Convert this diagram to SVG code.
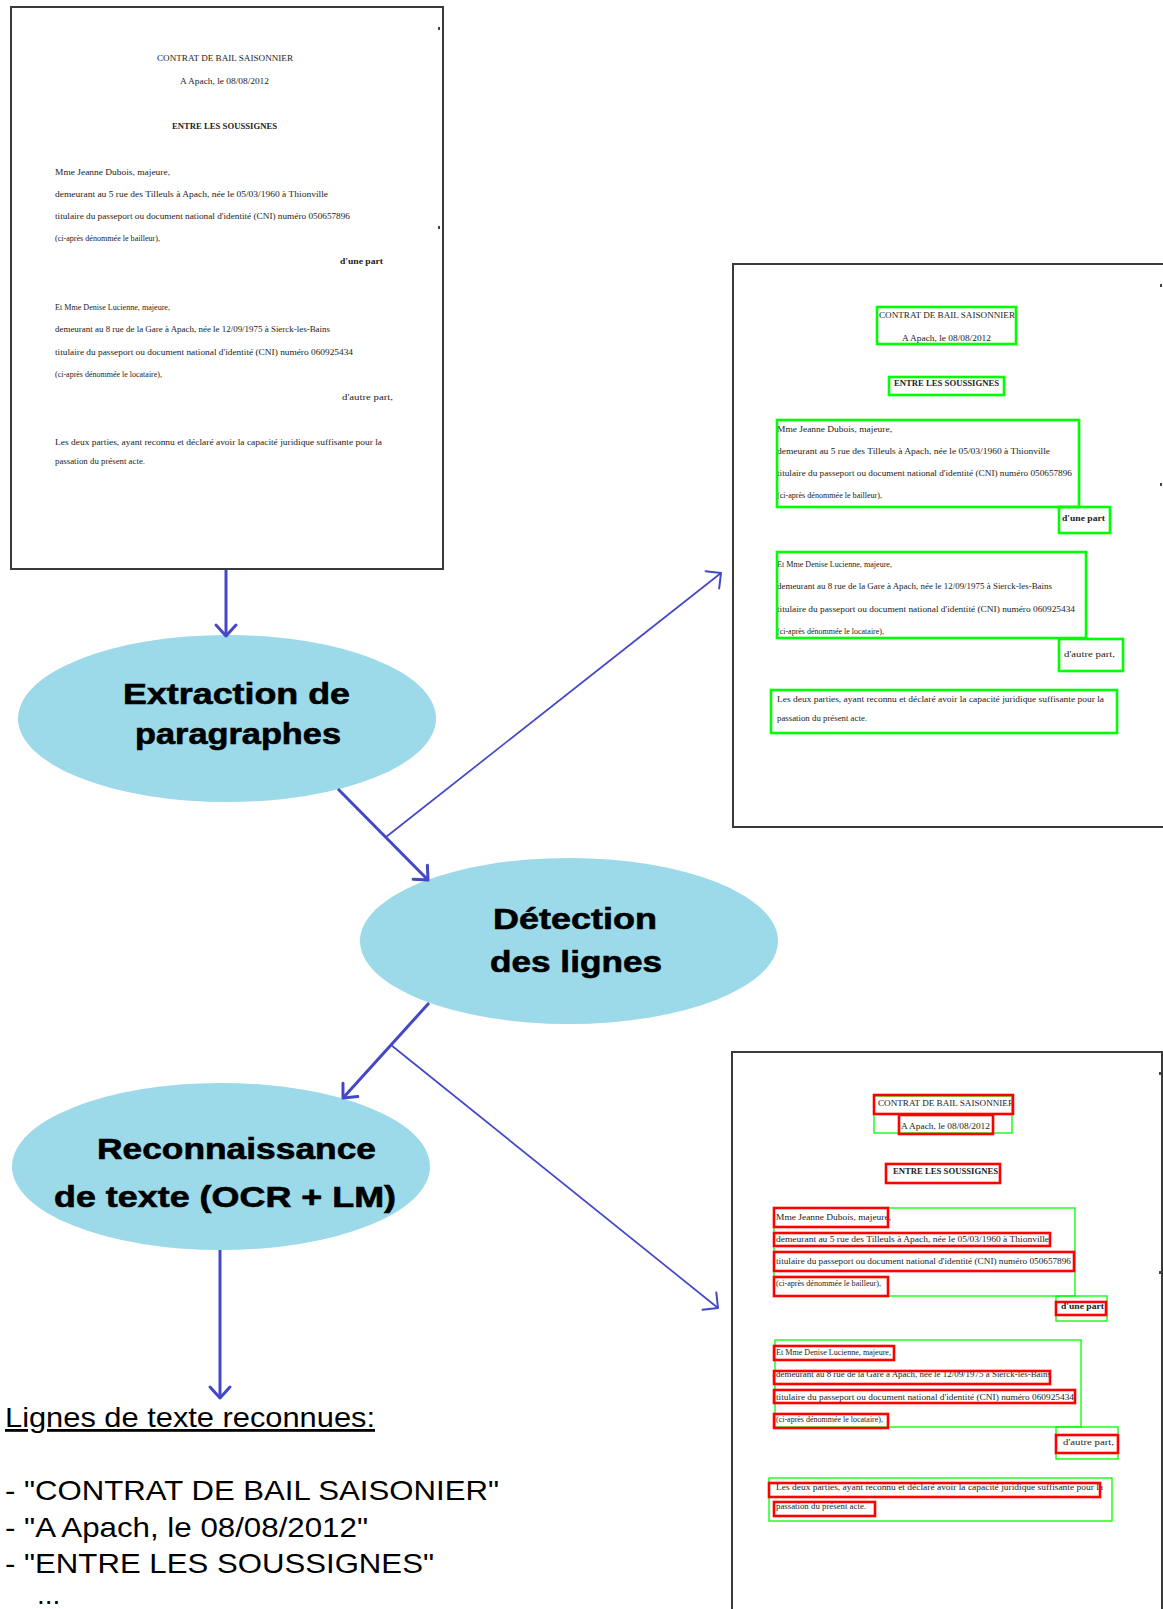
<svg xmlns="http://www.w3.org/2000/svg" xmlns:xlink="http://www.w3.org/1999/xlink" width="1163" height="1609" viewBox="0 0 1163 1609">
<style>
.page{fill:#fff;stroke:#3a3a3a;stroke-width:2}
.dt{font-family:"Liberation Serif","Times New Roman",serif;font-size:7.5px;fill:#222}
.db{font-weight:bold}
.g{fill:none;stroke:#00ff00;stroke-width:2.6}
.gt{fill:none;stroke:#00ff00;stroke-width:1.3}
.r{fill:none;stroke:#ff0000;stroke-width:2.6}
.ell{fill:#9cd9e9}
.lbl{font-family:"Liberation Sans",Arial,sans-serif;font-weight:bold;font-size:29px;fill:#000;stroke:#000;stroke-width:0.6}
.thick{stroke:#4347c8;stroke-width:3;fill:none}
.thin{stroke:#4347c8;stroke-width:1.7;fill:none}
.out{font-family:"Liberation Sans",Arial,sans-serif;font-size:28px;fill:#000}
</style>
<defs>
<marker id="ah" markerUnits="userSpaceOnUse" markerWidth="30" markerHeight="30" viewBox="-15 -15 30 30" refX="0" refY="0" orient="auto">
<path d="M-11,-10 L0,0 L-11,10" fill="none" stroke="#4347c8" stroke-width="3" stroke-linecap="round" stroke-linejoin="round"/>
</marker>
<marker id="aht" markerUnits="userSpaceOnUse" markerWidth="30" markerHeight="30" viewBox="-15 -15 30 30" refX="0" refY="0" orient="auto">
<path d="M-11,-11 L0,0 L-11,11" fill="none" stroke="#4347c8" stroke-width="2" stroke-linecap="round" stroke-linejoin="round"/>
</marker>
<g id="pagetext">
<text class="dt" x="157" y="61" textLength="136" lengthAdjust="spacingAndGlyphs">CONTRAT DE BAIL SAISONNIER</text>
<text class="dt" x="180" y="84" textLength="89" lengthAdjust="spacingAndGlyphs">A Apach, le 08/08/2012</text>
<text class="dt db" x="172" y="129" textLength="105" lengthAdjust="spacingAndGlyphs">ENTRE LES SOUSSIGNES</text>
<text class="dt" x="55" y="175" textLength="115" lengthAdjust="spacingAndGlyphs">Mme Jeanne Dubois, majeure,</text>
<text class="dt" x="55" y="197" textLength="273" lengthAdjust="spacingAndGlyphs">demeurant au 5 rue des Tilleuls à Apach, née le 05/03/1960 à Thionville</text>
<text class="dt" x="55" y="219" textLength="295" lengthAdjust="spacingAndGlyphs">titulaire du passeport ou document national d'identité (CNI) numéro 050657896</text>
<text class="dt" x="55" y="241" textLength="105" lengthAdjust="spacingAndGlyphs">(ci-après dénommée le bailleur),</text>
<text class="dt db" x="340" y="264" textLength="43" lengthAdjust="spacingAndGlyphs">d'une part</text>
<text class="dt" x="55" y="310" textLength="115" lengthAdjust="spacingAndGlyphs">Et Mme Denise Lucienne, majeure,</text>
<text class="dt" x="55" y="332" textLength="275" lengthAdjust="spacingAndGlyphs">demeurant au 8 rue de la Gare à Apach, née le 12/09/1975 à Sierck-les-Bains</text>
<text class="dt" x="55" y="355" textLength="298" lengthAdjust="spacingAndGlyphs">titulaire du passeport ou document national d'identité (CNI) numéro 060925434</text>
<text class="dt" x="55" y="377" textLength="107" lengthAdjust="spacingAndGlyphs">(ci-après dénommée le locataire),</text>
<text class="dt" x="342" y="400" textLength="51" lengthAdjust="spacingAndGlyphs">d'autre part,</text>
<text class="dt" x="55" y="445" textLength="327" lengthAdjust="spacingAndGlyphs">Les deux parties, ayant reconnu et déclaré avoir la capacité juridique suffisante pour la</text>
<text class="dt" x="55" y="464" textLength="90" lengthAdjust="spacingAndGlyphs">passation du présent acte.</text>
<rect x="438" y="27" width="2" height="3" fill="#444"/>
<rect x="438" y="226" width="2" height="3" fill="#444"/>
</g>
</defs>

<g id="doc-original">
<rect class="page" x="11" y="7" width="432" height="562"/>
<use xlink:href="#pagetext"/>
</g>

<g id="doc-paragraphs">
<rect class="page" x="733" y="264" width="440" height="563"/>
<use xlink:href="#pagetext" transform="translate(722,257)"/>
<rect class="g" x="877" y="307" width="139" height="37"/>
<rect class="g" x="889" y="377" width="115" height="18"/>
<rect class="g" x="777" y="420" width="302" height="87"/>
<rect class="g" x="1059" y="507" width="51" height="26"/>
<rect class="g" x="777" y="552" width="309" height="86"/>
<rect class="g" x="1059" y="639" width="64" height="32"/>
<rect class="g" x="771" y="690" width="346" height="43"/>
</g>

<g id="doc-lines">
<rect class="page" x="732" y="1052" width="430" height="600"/>
<use xlink:href="#pagetext" transform="translate(721,1045)"/>
<rect class="gt" x="874" y="1096" width="138" height="37"/>
<rect class="gt" x="774" y="1208" width="301" height="88"/>
<rect class="gt" x="1056" y="1296" width="51" height="25"/>
<rect class="gt" x="775" y="1340" width="306" height="87"/>
<rect class="gt" x="1056" y="1427" width="62" height="32"/>
<rect class="gt" x="769" y="1478" width="343" height="43"/>
<rect class="r" x="874" y="1095" width="139" height="19"/>
<rect class="r" x="899" y="1115" width="94" height="19"/>
<rect class="r" x="886" y="1164" width="114" height="19"/>
<rect class="r" x="774" y="1208" width="114" height="19"/>
<rect class="r" x="774" y="1233" width="276" height="13"/>
<rect class="r" x="774" y="1252" width="300" height="19"/>
<rect class="r" x="774" y="1277" width="114" height="19"/>
<rect class="r" x="1056" y="1302" width="50" height="13"/>
<rect class="r" x="774" y="1346" width="120" height="14"/>
<rect class="r" x="774" y="1371" width="276" height="13"/>
<rect class="r" x="774" y="1390" width="301" height="13"/>
<rect class="r" x="774" y="1414" width="114" height="14"/>
<rect class="r" x="1056" y="1435" width="62" height="18"/>
<rect class="r" x="769" y="1483" width="331" height="14"/>
<rect class="r" x="774" y="1502" width="101" height="14"/>
</g>

<g id="node-extraction">
<ellipse class="ell" cx="227" cy="718.5" rx="209" ry="83.5"/>
<text class="lbl" x="123" y="704" textLength="227" lengthAdjust="spacingAndGlyphs">Extraction de</text>
<text class="lbl" x="135" y="744" textLength="206" lengthAdjust="spacingAndGlyphs">paragraphes</text>
</g>

<g id="node-detection">
<ellipse class="ell" cx="569" cy="941" rx="209" ry="83"/>
<text class="lbl" x="493" y="929" textLength="164" lengthAdjust="spacingAndGlyphs">Détection</text>
<text class="lbl" x="490" y="972" textLength="172" lengthAdjust="spacingAndGlyphs">des lignes</text>
</g>

<g id="node-ocr">
<ellipse class="ell" cx="221" cy="1166.5" rx="209" ry="83.5"/>
<text class="lbl" x="97" y="1159" textLength="279" lengthAdjust="spacingAndGlyphs">Reconnaissance</text>
<text class="lbl" x="54" y="1207" textLength="342" lengthAdjust="spacingAndGlyphs">de texte (OCR + LM)</text>
</g>

<g id="connectors">
<line class="thick" x1="226" y1="570" x2="226" y2="636" marker-end="url(#ah)"/>
<line class="thick" x1="338" y1="789" x2="428" y2="880" marker-end="url(#ah)"/>
<line class="thin" x1="386" y1="837" x2="721" y2="573" marker-end="url(#aht)"/>
<line class="thick" x1="429" y1="1003" x2="343" y2="1098" marker-end="url(#ah)"/>
<line class="thin" x1="391" y1="1045" x2="718" y2="1308" marker-end="url(#aht)"/>
<line class="thick" x1="220" y1="1250" x2="220" y2="1398" marker-end="url(#ah)"/>
</g>

<g id="result-text">
<text class="out" x="5" y="1427" textLength="370" lengthAdjust="spacingAndGlyphs" font-size="27" text-decoration="underline">Lignes de texte reconnues:</text>
<text class="out" x="5" y="1500" textLength="494" lengthAdjust="spacingAndGlyphs">- "CONTRAT DE BAIL SAISONIER"</text>
<text class="out" x="5" y="1537" textLength="363" lengthAdjust="spacingAndGlyphs">- "A Apach, le 08/08/2012"</text>
<text class="out" x="5" y="1573" textLength="429" lengthAdjust="spacingAndGlyphs">- "ENTRE LES SOUSSIGNES"</text>
<text class="out" x="37" y="1604">...</text>
</g>
</svg>
